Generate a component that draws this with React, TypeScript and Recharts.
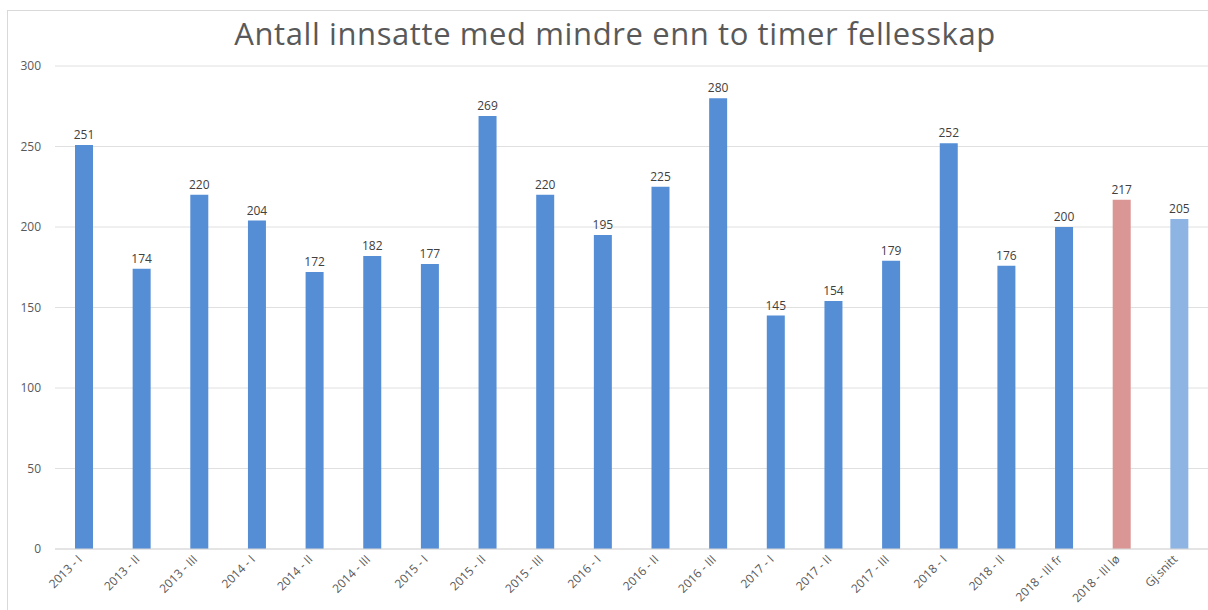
import { BarChart, Bar, XAxis, YAxis, CartesianGrid, LabelList, Cell } from "recharts";

const perioder = [
  "2013 - I", "2013 - II", "2013 - III",
  "2014 - I", "2014 - II", "2014 - III",
  "2015 - I", "2015 - II", "2015 - III",
  "2016 - I", "2016 - II", "2016 - III",
  "2017 - I", "2017 - II", "2017 - III",
  "2018 - I", "2018 - II", "2018 - III fr", "2018 - III lø",
  "Gj.snitt",
];
const innsatte = [251, 174, 220, 204, 172, 182, 177, 269, 220, 195, 225, 280, 145, 154, 179, 252, 176, 200, 217, 205];
const yTicks = [0, 50, 100, 150, 200, 250, 300];

const data = perioder.map((periode, i) => ({ periode, innsatte: innsatte[i] }));

function barColor(periode: string) {
  if (periode === "2018 - III lø") return "#D99694";
  if (periode === "Gj.snitt") return "#8EB4E3";
  return "#558ED5";
}

function XTick({ x, y, payload }: any) {
  return (
    <g transform={`translate(${x - 1},${y + 3})`}>
      <text
        transform="rotate(-45)"
        textAnchor="end"
        fill="#595959"
        fontSize={12}
        fontFamily="'Open Sans', sans-serif"
      >
        {payload.value}
      </text>
    </g>
  );
}

export default function App() {
  return (
    <div style={{ position: "absolute", left: 0, top: 0, width: 1208, height: 610, background: "#fff", overflow: "hidden" }}>
      <div
        style={{
          position: "absolute",
          left: 7,
          top: 10,
          width: 1300,
          height: 700,
          border: "1px solid #d9d9d9",
        }}
      />
      <div
        style={{
          position: "absolute",
          left: 0,
          width: 1230,
          top: 12,
          textAlign: "center",
          fontFamily: "'Open Sans', sans-serif",
          fontSize: 31,
          letterSpacing: 0.6,
          color: "#595959",
        }}
      >
        Antall innsatte med mindre enn to timer fellesskap
      </div>
      <div style={{ position: "absolute", left: 0, top: 0 }}>
        <BarChart
          width={1208}
          height={610}
          data={data}
          margin={{ top: 66, right: 0, bottom: 0, left: 0 }}
          barSize={18}
        >
          <CartesianGrid vertical={false} stroke="#e0e0e0" />
          <XAxis
            dataKey="periode"
            interval={0}
            height={61}
            tick={<XTick />}
            tickLine={false}
            axisLine={{ stroke: "#d9d9d9" }}
          />
          <YAxis
            width={55}
            domain={[0, 300]}
            ticks={yTicks}
            tickLine={false}
            axisLine={false}
            tickMargin={8}
            tick={{ fill: "#595959", fontSize: 12, fontFamily: "'Open Sans', sans-serif" }}
          />
          <Bar dataKey="innsatte" isAnimationActive={false}>
            {data.map((d) => (
              <Cell key={d.periode} fill={barColor(d.periode)} />
            ))}
            <LabelList
              dataKey="innsatte"
              position="top"
              offset={6}
              fill="#404040"
              fontSize={12}
              fontFamily="'Open Sans', sans-serif"
            />
          </Bar>
        </BarChart>
      </div>
    </div>
  );
}
